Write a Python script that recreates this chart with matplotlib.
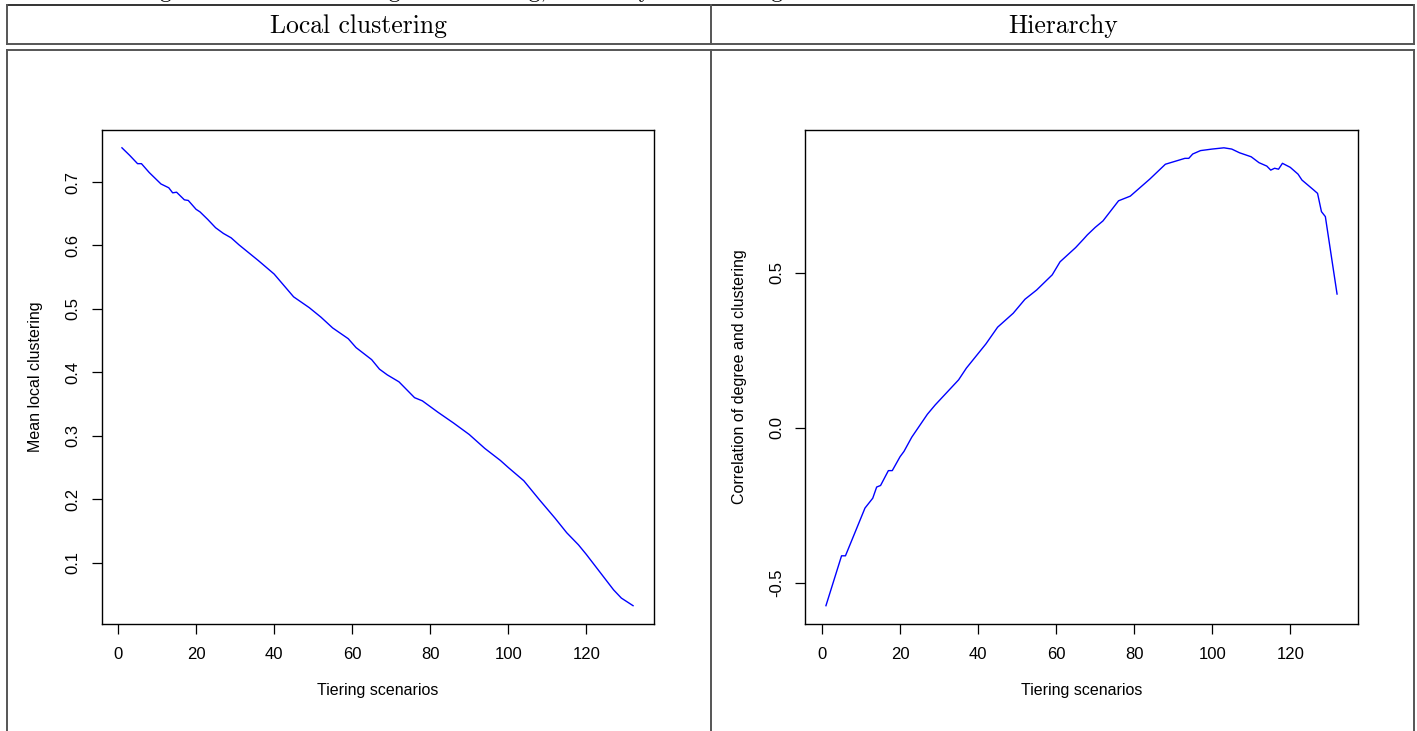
import matplotlib
matplotlib.use("Agg")
import matplotlib.pyplot as plt
from matplotlib.lines import Line2D

# Tiering scenario index vs. mean local clustering
scen_clust = [1, 3, 5, 6, 8, 11, 13, 14, 15, 17, 18, 20, 21, 23, 25, 27, 29, 31, 33, 34,
              36, 40, 45, 49, 52, 55, 59, 61, 65, 67, 69, 72, 76, 78, 82, 86, 90, 94, 98, 100,
              104, 108, 112, 115, 118, 120, 123, 127, 129, 132]
mean_clust = [0.754, 0.742, 0.729, 0.729, 0.715, 0.697, 0.691, 0.683, 0.684, 0.672,
              0.671, 0.657, 0.653, 0.641, 0.628, 0.619, 0.612, 0.601, 0.591, 0.586,
              0.576, 0.555, 0.519, 0.502, 0.487, 0.470, 0.453, 0.439, 0.420, 0.405,
              0.396, 0.385, 0.360, 0.355, 0.337, 0.320, 0.302, 0.280, 0.261, 0.250,
              0.229, 0.199, 0.170, 0.147, 0.128, 0.113, 0.089, 0.057, 0.044, 0.032]

# Tiering scenario index vs. correlation of degree and clustering
scen_hier = [1, 5, 6, 11, 13, 14, 15, 17, 18, 20, 21, 23, 27, 29, 33, 35, 37, 42, 45, 49,
             52, 55, 59, 61, 65, 67, 68, 70, 72, 76, 79, 84, 88, 93, 94, 95, 97, 100, 103, 105,
             107, 110, 112, 114, 115, 116, 117, 118, 120, 122, 123, 126, 127, 128, 129, 132]
deg_clust_cor = [-0.574, -0.413, -0.413, -0.259, -0.227, -0.191, -0.186, -0.138, -0.138, -0.093,
                 -0.076, -0.030, 0.044, 0.074, 0.128, 0.155, 0.193, 0.271, 0.325, 0.370,
                 0.415, 0.445, 0.494, 0.536, 0.582, 0.609, 0.623, 0.647, 0.668, 0.733,
                 0.748, 0.803, 0.851, 0.870, 0.870, 0.884, 0.895, 0.900, 0.904, 0.900,
                 0.888, 0.875, 0.856, 0.845, 0.832, 0.838, 0.835, 0.854, 0.841, 0.819,
                 0.800, 0.768, 0.757, 0.698, 0.682, 0.432]

x_ticks = [0, 20, 40, 60, 80, 100, 120]
clust_ticks = [0.1, 0.2, 0.3, 0.4, 0.5, 0.6, 0.7]
hier_ticks = [-0.5, 0.0, 0.5]
headers = ["Local clustering", "Hierarchy"]
caption = "Figure 3: Effect of tiering on clustering, hierarchy and ranking"

W, H = 1417, 731
fig = plt.figure(figsize=(W / 100, H / 100), dpi=100)
plt.rcParams["font.family"] = ["Liberation Sans", "DejaVu Sans"]


def fx(px):
    return px / W


def fy(py):
    return 1 - py / H


def hline(y, x0, x1, c="#555555", lw=1.4):
    fig.add_artist(Line2D([fx(x0), fx(x1)], [fy(y), fy(y)], color=c, lw=lw,
                          transform=fig.transFigure))


def vline(x, y0, y1, c="#555555", lw=1.4):
    fig.add_artist(Line2D([fx(x), fx(x)], [fy(y0), fy(y1)], color=c, lw=lw,
                          transform=fig.transFigure))


# table frame around the two panels
hline(5, 7, 1414, c="#111111", lw=1.2)
hline(44, 7, 1414)
hline(50, 7, 1414)
for xp in (7, 711, 1414):
    vline(xp, 5, 44)
    vline(xp, 50, H + 5)

# caption of the page sits mostly above the visible area
fig.text(fx(460), fy(-3), caption, family="cmr10", fontsize=17, ha="center", va="baseline")
fig.text(fx(359), fy(33), headers[0], family="cmr10", fontsize=18.5, ha="center", va="baseline")
fig.text(fx(1063), fy(33), headers[1], family="cmr10", fontsize=18.5, ha="center", va="baseline")


def r_lim(vals):
    lo, hi = min(vals), max(vals)
    pad = 0.04 * (hi - lo)
    return lo - pad, hi + pad


def panel(left, x, y, yticks, ylabel):
    ax = fig.add_axes([fx(left), fy(624), fx(552), 494.5 / H])
    ax.plot(x, y, color="#0000ff", lw=1.0)
    ax.set_xlim(*r_lim(x))
    ax.set_ylim(*r_lim(y))
    ax.set_xticks(x_ticks)
    ax.set_yticks(yticks)
    ax.set_yticklabels([f"{v:.1f}" for v in yticks], rotation=90, va="center")
    ax.tick_params(direction="out", length=7.5, width=0.9, labelsize=12, pad=9)
    ax.tick_params(axis="y", pad=8)
    for s in ax.spines.values():
        s.set_linewidth(1.0)
    ax.set_xlabel("Tiering scenarios", fontsize=11.5, labelpad=15)
    ax.set_ylabel(ylabel, fontsize=11.5, labelpad=16)
    return ax


panel(101.5, scen_clust, mean_clust, clust_ticks, "Mean local clustering")
panel(805.5, scen_hier, deg_clust_cor, hier_ticks, "Correlation of degree and clustering")

fig.savefig("out.png", dpi=100)
